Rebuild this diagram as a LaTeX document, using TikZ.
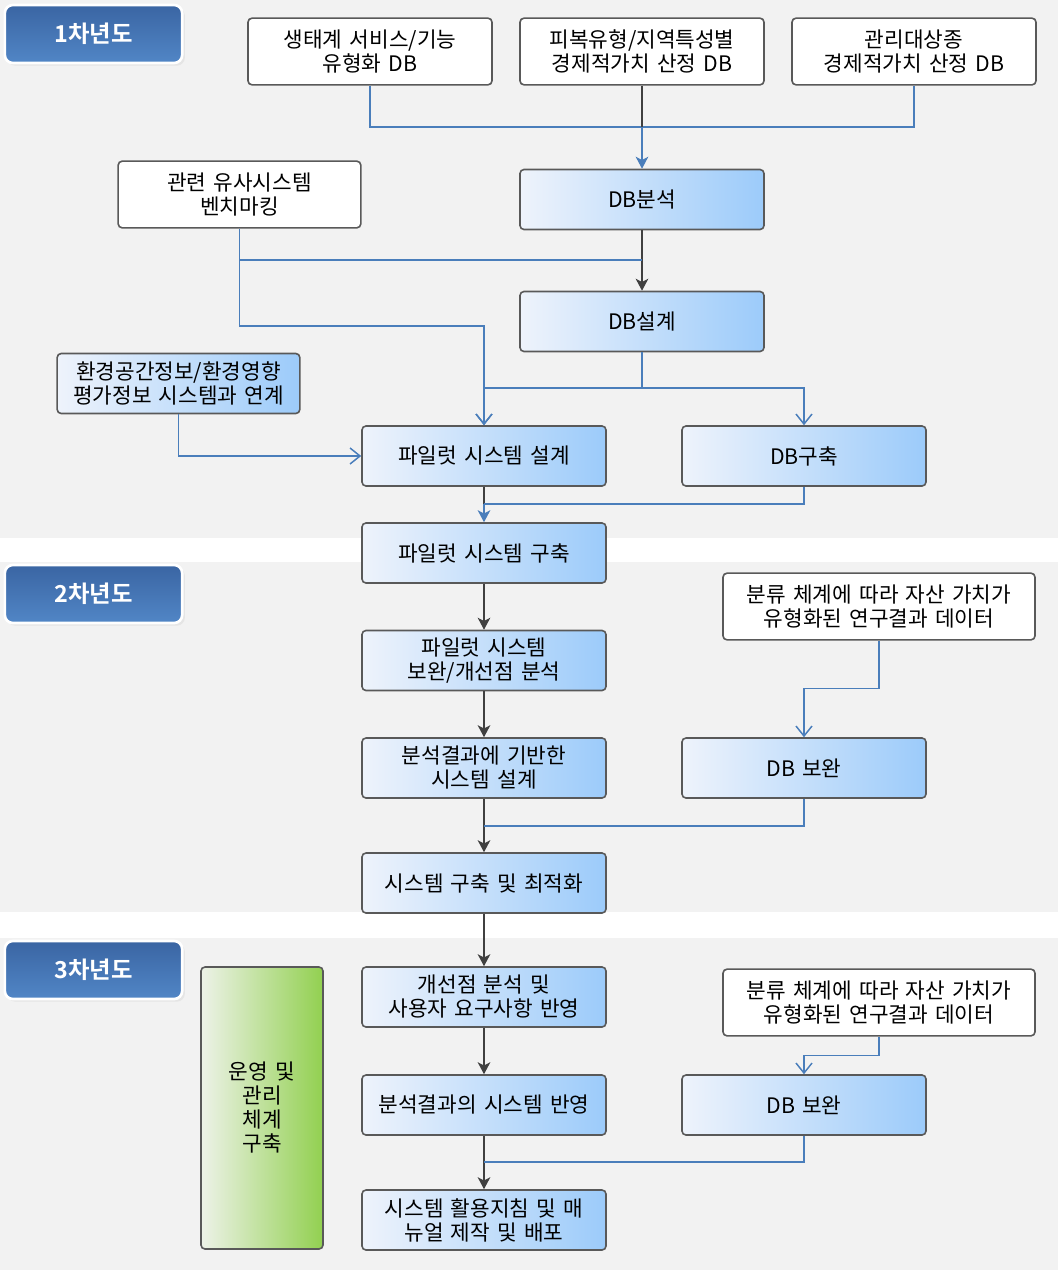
\documentclass[tikz,border=0pt]{standalone}
\usepackage{fontspec}
\setmainfont{Noto Sans CJK KR}[BoldFont={Noto Sans CJK KR Bold}, WordSpace=1.5]
\usetikzlibrary{positioning,arrows.meta,shadows}
\definecolor{bandgray}{HTML}{F2F2F2}
\definecolor{boxline}{HTML}{595959}
\definecolor{flowdark}{HTML}{404040}
\definecolor{linkblue}{HTML}{4A7EBB}
\definecolor{boxlight}{HTML}{EEF3FB}
\definecolor{boxblue}{HTML}{9CCBFA}
\definecolor{tabtop}{HTML}{3A65A3}
\definecolor{tabbottom}{HTML}{5186C6}
\definecolor{greenlight}{HTML}{EDF2E8}
\definecolor{greendark}{HTML}{92D050}
\tikzset{
  base box/.style={
    draw=boxline,
    line width=1.2pt,
    rounded corners=3pt,
    align=center,
    inner sep=0pt,
    font=\fontsize{16}{18}\selectfont,
    minimum width={#1},
  },
  white box/.style={
    base box=#1,
    fill=white,
    minimum height=50pt,
  },
  blue box/.style={
    base box=#1,
    left color=boxlight,
    right color=boxblue,
    minimum height=45pt,
  },
  green box/.style={
    base box=91.5pt,
    left color=greenlight,
    right color=greendark,
    minimum height=211.5pt,
  },
  year tab/.style={
    draw=white,
    line width=2pt,
    rounded corners=6pt,
    top color=tabtop,
    bottom color=tabbottom,
    minimum width=133pt,
    minimum height=43.5pt,
    text=white,
    font=\fontsize{17.5}{18}\selectfont\bfseries,
    drop shadow={shadow xshift=2pt, shadow yshift=-2pt, fill=black!15},
  },
  flow/.style={
    draw=flowdark,
    line width=1.1pt,
  },
  flow arrow/.style={
    flow,
    -{Stealth[length=9pt, width=9.5pt, inset=2.5pt]},
  },
  link/.style={
    draw=linkblue,
    line width=1.1pt,
  },
  link arrow/.style={
    link,
    -{Stealth[length=9pt, width=9.5pt, inset=2.5pt]},
  },
  link open/.style={
    link,
    -{Straight Barb[length=7.5pt, width=12pt]},
  },
}

\begin{document}
\begin{tikzpicture}[x=0.75pt, y=-0.75pt]
  \useasboundingbox (0,0) rectangle (1058,1275);
  % year bands
  \fill[bandgray] (0,0) rectangle (1058,538);
  \fill[bandgray] (0,562) rectangle (1058,912);
  \fill[bandgray] (0,938) rectangle (1058,1270);

  \node [year tab] (y1) at (93.5,34) {1차년도};
  \node [year tab] (y2) at (93.5,594) {2차년도};
  \node [year tab] (y3) at (93.5,970) {3차년도};

  % year 1
  \node [white box=183pt] (svcdb) at (370,51.5) {생태계 서비스/기능\\유형화 DB};
  \node [white box=183pt] (covdb) at (642,51.5) {피복유형/지역특성별\\경제적가치 산정 DB};
  \node [white box=183pt] (spcdb) at (914,51.5) {관리대상종\\경제적가치 산정 DB};
  \node [blue box=183pt] (dbanal) at (642,199.5) {DB분석};
  \node [white box=182pt] (bench) at (239.5,194.5) {관련 유사시스템\\벤치마킹};
  \node [blue box=183pt] (dbdes) at (642,321.5) {DB설계};
  \node [blue box=182pt] (envlink) at (178.5,383.5) {환경공간정보/환경영향\\평가정보 시스템과 연계};
  \node [blue box=183pt] (pdes) at (484,456) {파일럿 시스템 설계};
  \node [blue box=183pt] (dbbuild) at (804,456) {DB구축};
  \node [blue box=183pt] (pbuild) at (484,553) {파일럿 시스템 구축};

  \coordinate (j1) at (642,127);
  \coordinate (j2) at (642,260);
  \coordinate (j3) at (484,326);
  \coordinate (j4) at (642,388);
  \coordinate (j5) at (484,504);

  \draw[link] (svcdb.south) |- (j1) -| (spcdb.south);
  \draw[flow] (covdb.south) -- (j1);
  \draw[link arrow] (j1) -- (dbanal.north);
  \draw[flow arrow] (dbanal) -- (dbdes);
  \draw[link] (bench.south) |- (j2);
  \draw[link open] (bench.south) |- (j3) -- (pdes.north);
  \draw[link] (dbdes.south) -- (j4);
  \draw[link open] (j4) -| (pdes.north);
  \draw[link open] (j4) -| (dbbuild.north);
  \draw[link open] (envlink.south) |- (pdes.west);
  \draw[flow] (pdes.south) -- (j5);
  \draw[link] (dbbuild.south) |- (j5);
  \draw[link arrow] (j5) -- (pbuild.north);

  % year 2
  \node [white box=234pt] (cls2) at (879,606.5) {분류 체계에 따라 자산 가치가\\유형화된 연구결과 데이터};
  \node [blue box=183pt] (pimp) at (484,660.5) {파일럿 시스템\\보완/개선점 분석};
  \node [blue box=183pt] (sdes) at (484,768) {분석결과에 기반한\\시스템 설계};
  \node [blue box=183pt] (dbfix2) at (804,768) {DB 보완};
  \node [blue box=183pt] (sopt) at (484,883) {시스템 구축 및 최적화};

  \coordinate (j6) at (484,826);

  \draw[flow arrow] (pbuild) -- (pimp);
  \draw[flow arrow] (pimp) -- (sdes);
  \draw[flow arrow] (sdes) -- (sopt);
  \draw[link] (dbfix2.south) |- (j6);
  \draw[link open] (cls2.south) -- ++(0,48) -| (dbfix2.north);

  % year 3
  \node [green box] (oper) at (262,1108) {운영 및\\관리\\체계\\구축};
  \node [white box=234pt] (cls3) at (879,1002.5) {분류 체계에 따라 자산 가치가\\유형화된 연구결과 데이터};
  \node [blue box=183pt] (impr) at (484,997) {개선점 분석 및\\사용자 요구사항 반영};
  \node [blue box=183pt] (refl) at (484,1105) {분석결과의 시스템 반영};
  \node [blue box=183pt] (dbfix3) at (804,1105) {DB 보완};
  \node [blue box=183pt] (manual) at (484,1220) {시스템 활용지침 및 매\\뉴얼 제작 및 배포};

  \coordinate (j7) at (484,1162);

  \draw[flow arrow] (sopt) -- (impr);
  \draw[flow arrow] (impr) -- (refl);
  \draw[flow arrow] (refl) -- (manual);
  \draw[link] (dbfix3.south) |- (j7);
  \draw[link open] (cls3.south) -- ++(0,19) -| (dbfix3.north);
\end{tikzpicture}
\end{document}
